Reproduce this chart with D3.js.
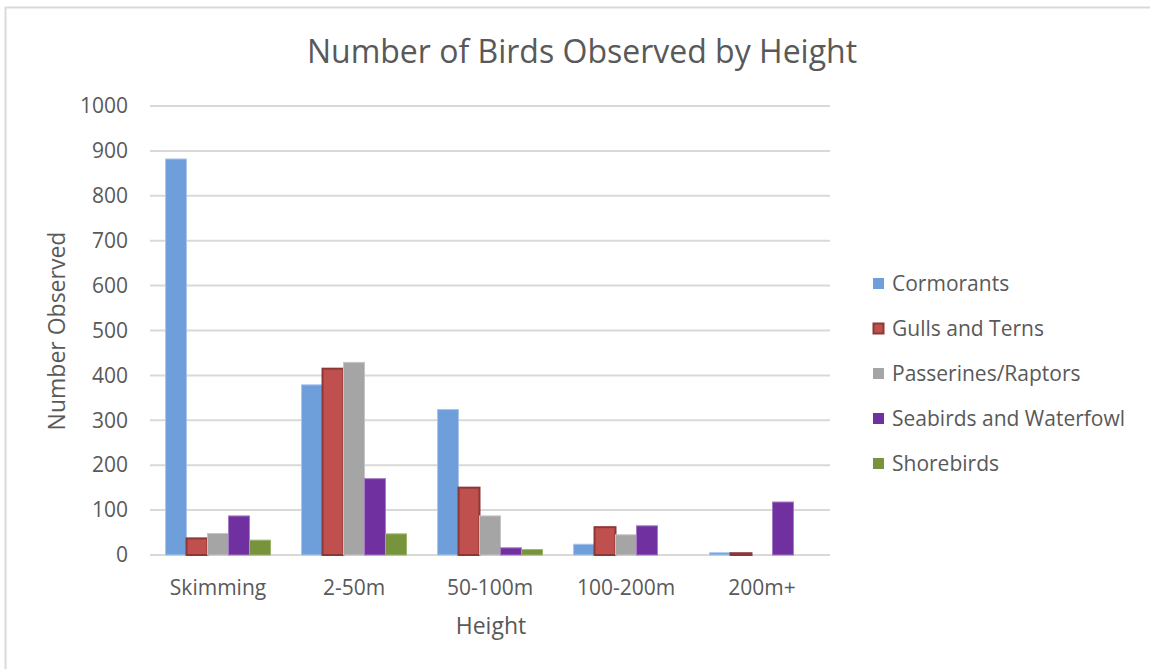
<!DOCTYPE html>
<html>
<head>
<meta charset="utf-8">
<script src="https://cdn.jsdelivr.net/npm/d3@7"></script>
<style>
  html, body { margin: 0; padding: 0; background: #fff; }
  svg { display: block; }
  text { font-family: "Open Sans", "Noto Sans", sans-serif; fill: #595959; }
</style>
</head>
<body>
<svg id="chart" width="1150" height="669"></svg>
<script>
// Height bands on the x axis
const heights = ["Skimming", "2-50m", "50-100m", "100-200m", "200m+"];

// Bird groups (one bar per group within each height band)
const groups = ["Cormorants", "Gulls and Terns", "Passerines/Raptors", "Seabirds and Waterfowl", "Shorebirds"];

// Counts per group, in the order of `heights`
const cormorants  = [882, 379, 324, 24, 5];
const gullsTerns  = [37, 415, 150, 62, 4];
const passerines  = [48, 429, 87, 45, 0];
const seabirds    = [87, 170, 16, 65, 118];
const shorebirds  = [33, 47, 12, 0, 0];

const yTicks = [0, 100, 200, 300, 400, 500, 600, 700, 800, 900, 1000];

const fills   = ["#6f9fdb", "#c0504d", "#a5a5a5", "#7030a0", "#77933c"];
const strokes = ["#a9c6ec", "#8c3836", "#c4c4c4", "#a47cc4", "#9ab36a"];

const seriesValues = [cormorants, gullsTerns, passerines, seabirds, shorebirds];

const svg = d3.select("#chart");

// outer chart frame
svg.append("rect")
  .attr("x", 5.5).attr("y", 7.5)
  .attr("width", 1160).attr("height", 680)
  .attr("fill", "none").attr("stroke", "#d9d9d9").attr("stroke-width", 2);

const plot = { left: 150, right: 830, top: 106, bottom: 555 };

const x0 = d3.scaleBand().domain(heights).range([plot.left, plot.right]).paddingInner(0).paddingOuter(0);
const x1 = d3.scaleBand().domain(groups).range([0, x0.bandwidth()]).paddingInner(0).paddingOuter(0.74);
const y = d3.scaleLinear().domain([0, 1000]).range([plot.bottom, plot.top]);

// gridlines
svg.append("g")
  .selectAll("line")
  .data(yTicks)
  .join("line")
  .attr("x1", plot.left).attr("x2", plot.right)
  .attr("y1", d => y(d)).attr("y2", d => y(d))
  .attr("stroke", "#d9d9d9").attr("stroke-width", 2);

// y axis labels
const yAxis = d3.axisLeft(y).tickValues(yTicks).tickFormat(d3.format("d")).tickSize(0).tickPadding(22);
svg.append("g")
  .attr("transform", `translate(${plot.left},0)`)
  .call(yAxis)
  .call(g => g.select(".domain").remove())
  .call(g => g.selectAll("text")
    .style("font-family", '"Open Sans", sans-serif')
    .style("font-size", "21px").attr("fill", "#595959"));

// bars
const rows = heights.map((h, i) => ({ h, vals: groups.map((g, j) => ({ g, j, v: seriesValues[j][i] })) }));

svg.append("g")
  .selectAll("g")
  .data(rows)
  .join("g")
  .attr("transform", d => `translate(${x0(d.h)},0)`)
  .selectAll("rect")
  .data(d => d.vals.filter(e => e.v > 0))
  .join("rect")
  .attr("x", d => x1(d.g))
  .attr("y", d => y(d.v))
  .attr("width", x1.bandwidth())
  .attr("height", d => y(0) - y(d.v))
  .attr("fill", d => fills[d.j])
  .attr("stroke", d => strokes[d.j])
  .attr("stroke-width", d => d.j === 1 ? 2 : 1);

// x axis category labels
const xAxis = d3.axisBottom(x0).tickSize(0).tickPadding(25);
svg.append("g")
  .attr("transform", `translate(0,${plot.bottom})`)
  .call(xAxis)
  .call(g => g.select(".domain").remove())
  .call(g => g.selectAll("text")
    .style("font-family", '"Open Sans", sans-serif')
    .style("font-size", "21px").attr("fill", "#595959"));

// title
svg.append("text")
  .attr("x", 582).attr("y", 63)
  .attr("text-anchor", "middle")
  .style("font-size", "32px")
  .text("Number of Birds Observed by Height");

// axis titles
svg.append("text")
  .attr("x", 491).attr("y", 634)
  .attr("text-anchor", "middle")
  .style("font-size", "23px")
  .text("Height");

svg.append("text")
  .attr("transform", "translate(65,331) rotate(-90)")
  .attr("text-anchor", "middle")
  .style("font-size", "23px")
  .text("Number Observed");

// legend
const legend = svg.append("g").attr("transform", "translate(873,284)");
const li = legend.selectAll("g").data(groups).join("g")
  .attr("transform", (d, i) => `translate(0,${i * 45})`);
li.append("rect")
  .attr("x", 0.5).attr("y", -5.5).attr("width", 10).attr("height", 10)
  .attr("fill", (d, i) => fills[i])
  .attr("stroke", (d, i) => i === 1 ? strokes[i] : fills[i])
  .attr("stroke-width", (d, i) => i === 1 ? 2 : 1);
li.append("text")
  .attr("x", 19).attr("y", 0).attr("dy", "0.35em")
  .style("font-size", "21px")
  .text(d => d);
</script>
</body>
</html>
